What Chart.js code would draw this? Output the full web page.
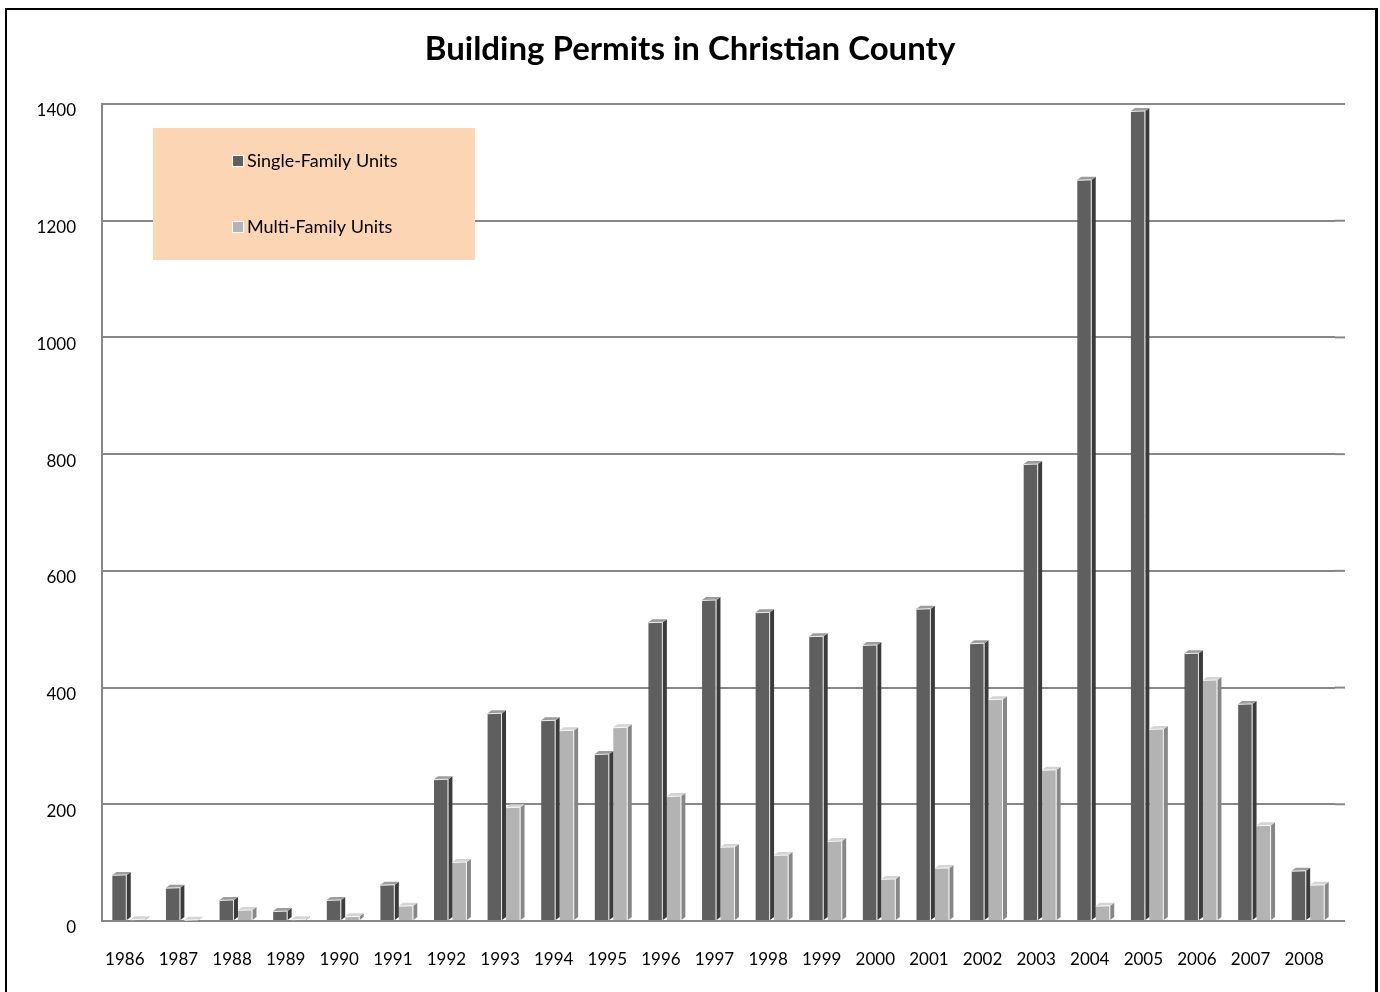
<!DOCTYPE html>
<html>
<head>
<meta charset="utf-8">
<title>Building Permits in Christian County</title>
<script src="https://cdn.jsdelivr.net/npm/chart.js@4/dist/chart.umd.min.js"></script>
<style>
  html, body { margin: 0; padding: 0; background: #ffffff; }
  #wrap { position: relative; width: 1380px; height: 992px; overflow: hidden; }
  #frame {
    position: absolute; left: 5px; top: 8px; width: 1368px; height: 1000px;
    border-left: 2px solid #000; border-top: 2px solid #000; border-right: 3px solid #000;
  }
  #permitsChart { position: absolute; left: 0; top: 0; }
</style>
</head>
<body>
<div id="wrap">
  <div id="frame"></div>
  <canvas id="permitsChart" width="1380" height="992"></canvas>
</div>
<script>
"use strict";

const years = ["1986", "1987", "1988", "1989", "1990", "1991", "1992", "1993", "1994", "1995", "1996", "1997",
  "1998", "1999", "2000", "2001", "2002", "2003", "2004", "2005", "2006", "2007", "2008"];
const singleFamily = [79, 57, 36, 17, 36, 62, 243, 356, 344, 286, 512, 550, 529, 488, 473, 535, 476, 783, 1270, 1388, 459, 372, 86];
const multiFamily = [3, 2, 19, 3, 8, 26, 101, 195, 327, 332, 214, 127, 113, 137, 72, 91, 380, 259, 26, 329, 413, 164, 62];
const seriesNames = ["Single-Family Units", "Multi-Family Units"];

const FONT = "Lato";
const shades = [
  { front: "#5f5f5f", side: "#3b3b3b", top: "#9c9c9c" },
  { front: "#b3b3b3", side: "#878787", top: "#d4d4d4" }
];

// fake the excel 3d look: side and top faces on each bar
const bevelBars = {
  id: "bevelBars",
  afterDatasetsDraw(chart) {
    const ctx = chart.ctx;
    const depth = 4;
    const rise = 3;
    chart.data.datasets.forEach((ds, i) => {
      const meta = chart.getDatasetMeta(i);
      const shade = shades[i];
      meta.data.forEach((bar) => {
        const p = bar.getProps(["x", "y", "base", "width"], true);
        const left = p.x - p.width / 2;
        const right = p.x + p.width / 2;
        ctx.save();
        ctx.fillStyle = shade.side;
        ctx.beginPath();
        ctx.moveTo(right, p.y);
        ctx.lineTo(right + depth, p.y - rise);
        ctx.lineTo(right + depth, p.base - rise);
        ctx.lineTo(right, p.base);
        ctx.closePath();
        ctx.fill();
        ctx.fillStyle = shade.top;
        ctx.beginPath();
        ctx.moveTo(left, p.y);
        ctx.lineTo(left + depth, p.y - rise);
        ctx.lineTo(right + depth, p.y - rise);
        ctx.lineTo(right, p.y);
        ctx.closePath();
        ctx.fill();
        ctx.strokeStyle = "rgba(255,255,255,0.85)";
        ctx.lineWidth = 1;
        ctx.beginPath();
        ctx.moveTo(right - 0.5, p.base);
        ctx.lineTo(right - 0.5, p.y);
        ctx.lineTo(left, p.y + 0.5);
        ctx.stroke();
        ctx.restore();
      });
    });
  }
};

// gridlines run on a little past the last year
const gridTail = {
  id: "gridTail",
  beforeDatasetsDraw(chart) {
    const ctx = chart.ctx;
    const y = chart.scales.y;
    const area = chart.chartArea;
    ctx.save();
    ctx.strokeStyle = "#878787";
    ctx.lineWidth = 2;
    y.ticks.forEach((t) => {
      const py = y.getPixelForValue(t.value);
      ctx.beginPath();
      ctx.moveTo(area.right, py);
      ctx.lineTo(area.right + 10, py);
      ctx.stroke();
    });
    ctx.restore();
  }
};

const boxLegend = {
  id: "boxLegend",
  afterDatasetsDraw(chart) {
    const ctx = chart.ctx;
    ctx.save();
    ctx.fillStyle = "#fcd5b5";
    ctx.fillRect(153, 128, 322, 132);
    ctx.font = "18px " + FONT;
    ctx.textBaseline = "middle";
    chart.data.datasets.forEach((ds, i) => {
      const cy = 161 + i * 66;
      ctx.fillStyle = "#ffffff";
      ctx.fillRect(232, cy - 6, 12, 12);
      ctx.fillStyle = ds.backgroundColor;
      ctx.fillRect(233, cy - 5, 10, 10);
      ctx.fillStyle = "#000000";
      ctx.fillText(ds.label, 247, cy);
    });
    ctx.restore();
  }
};

new Chart(document.getElementById("permitsChart"), {
  type: "bar",
  data: {
    labels: years,
    datasets: [
      { label: seriesNames[0], data: singleFamily, backgroundColor: shades[0].front },
      { label: seriesNames[1], data: multiFamily, backgroundColor: shades[1].front }
    ]
  },
  options: {
    responsive: false,
    animation: false,
    layout: { padding: 0 },
    datasets: {
      bar: { categoryPercentage: 0.69, barPercentage: 0.78, borderWidth: 0 }
    },
    scales: {
      x: {
        grid: { display: false, drawTicks: false },
        border: { display: false },
        ticks: { color: "#000000", font: { family: FONT, size: 17 }, padding: 28, labelOffset: -4, maxRotation: 0 },
        afterFit(scale) { scale.height = 71; }
      },
      y: {
        min: 0,
        max: 1400,
        grid: { color: "#878787", lineWidth: 2, drawTicks: false },
        border: { display: true, color: "#878787", width: 2 },
        ticks: {
          stepSize: 200,
          color: "#000000",
          font: { family: FONT, size: 17 },
          padding: 26,
          labelOffset: 7,
          callback: (v) => String(v)
        },
        afterFit(scale) { scale.width = 102; }
      },
      // empty right-hand axis, only keeps the room on the right
      spacer: {
        axis: "y",
        position: "right",
        grid: { display: false, drawTicks: false },
        border: { display: false },
        ticks: { display: false },
        afterFit(scale) { scale.width = 45; }
      }
    },
    plugins: {
      legend: { display: false },
      tooltip: { enabled: false },
      title: {
        display: true,
        text: "Building Permits in Christian County",
        color: "#000000",
        font: { family: FONT, size: 33, weight: "bold" },
        padding: { top: 30, bottom: 34.4 }
      }
    }
  },
  plugins: [gridTail, bevelBars, boxLegend]
});
</script>
</body>
</html>
